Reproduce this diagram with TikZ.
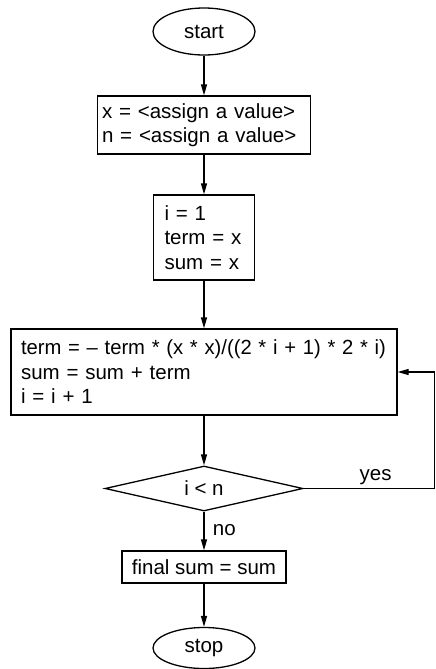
\documentclass[tikz,border=0pt]{standalone}
\usepackage{fontspec}
\setmainfont{Liberation Sans}
\usetikzlibrary{shapes.geometric,arrows.meta}
\begin{document}
\begin{tikzpicture}[x=1pt,y=-1pt,
  every node/.style={font=\fontsize{20.5}{24.5}\selectfont},
  flowline/.style={line width=1.3pt},
  arrowline/.style={flowline,-{Triangle[length=11pt,width=6pt]}},
  procbox/.style={draw,line width=1.3pt,align=left,inner sep=0pt},
  term/.style={draw,ellipse,line width=1.3pt,inner sep=0pt},
  decide/.style={draw,diamond,line width=1.3pt,inner sep=0pt,aspect=4.4}]
\useasboundingbox (0,0) rectangle (436,669);
\node[term,minimum width=102pt,minimum height=47pt] (start) at (204,31.5) {start};
\node[procbox,minimum width=213pt,minimum height=58pt,text width=204pt] (init1) at (204,125)
  {x = <assign a value>\\n = <assign a value>};
\node[procbox,minimum width=101pt,minimum height=85pt,text width=79pt] (init2) at (204,237.5)
  {i = 1\\term = x\\sum = x};
\node[procbox,minimum width=386pt,minimum height=86pt,text width=366pt] (loop) at (204,372)
  {\resizebox{365pt}{\height}{term = -- term * (x * x)/((2 * i + 1) * 2 * i)}\\sum = sum + term\\i = i + 1};
\node[decide,minimum width=198pt,minimum height=45pt] (test) at (204,488.5) {i < n};
\node[procbox,minimum width=164pt,minimum height=32pt,align=center] (final) at (204,567) {final sum = sum};
\node[term,minimum width=102pt,minimum height=41pt] (stop) at (204,648) {stop};
\coordinate (c1) at (434.5,488.5);
\coordinate (c2) at (434.5,372);
\draw[arrowline] (start) -- (init1);
\draw[arrowline] (init1) -- (init2);
\draw[arrowline] (init2) -- (loop);
\draw[arrowline] (loop) -- (test);
\draw[arrowline] (test) -- node[right,xshift=5pt,yshift=1pt] {no} (final);
\draw[arrowline] (final) -- (stop);
\draw[arrowline] (test.east) -- node[above,pos=0.55,yshift=0pt] {yes} (c1) -- (c2) -- (loop.east);
\end{tikzpicture}
\end{document}
